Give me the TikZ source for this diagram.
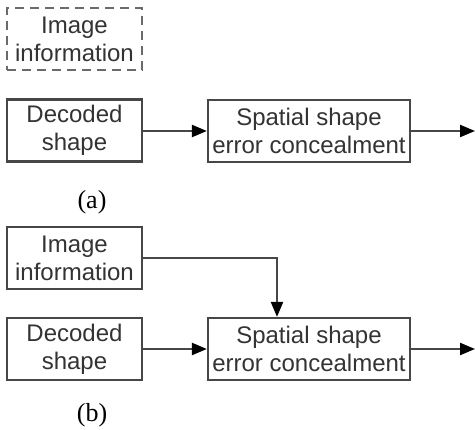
\documentclass[tikz,border=0pt]{standalone}
\usepackage{fontspec}
\setmainfont{Liberation Sans}
\newfontfamily\capfont{Liberation Serif}
\usetikzlibrary{arrows.meta}
\definecolor{boxline}{HTML}{474747}
\definecolor{dashline}{HTML}{6A6A6A}
\definecolor{txt}{HTML}{333333}
\begin{document}
\begin{tikzpicture}[x=1pt,y=-1pt,
  blk/.style={draw=boxline,line width=2.2pt,rectangle,inner sep=0pt,
    minimum height=62pt,align=center,text=txt,
    font=\fontsize{24}{28}\selectfont},
  small/.style={blk,minimum width=135pt},
  wide/.style={blk,minimum width=202pt},
  ghost/.style={small,draw=dashline,line width=2.6pt,dash pattern=on 9pt off 6pt},
  link/.style={draw=boxline,line width=2.2pt,
    -{Triangle[length=15pt,width=12pt,color=black]}},
  caption/.style={font=\capfont\fontsize{26}{30}\selectfont,text=black}]
\useasboundingbox (0,0) rectangle (475,430);

% (a) shape concealment from the decoded shape alone
\node[ghost] (infoA) at (74.5,39) {Image\\information};
\node[small] (decA) at (74.5,130.5) {Decoded\\shape};
\node[wide] (spA) at (309,131) {Spatial shape\\error concealment};
\coordinate (outA) at (475,131);
\draw[link] (decA.east |- spA.west) -- (spA.west);
\draw[link] (spA.east) -- (outA);
\node[caption] (capA) at (92,202) {(a)};

% (b) concealment guided by image information
\node[small] (infoB) at (74.5,258) {Image\\information};
\node[small] (decB) at (74.5,349) {Decoded\\shape};
\node[wide] (spB) at (309,349) {Spatial shape\\error concealment};
\coordinate (outB) at (475,349);
\coordinate (bend) at (277,258);
\draw[link] (infoB.east) -- (bend) -- (bend |- spB.north);
\draw[link] (decB.east) -- (spB.west);
\draw[link] (spB.east) -- (outB);
\node[caption] (capB) at (92,415) {(b)};
\end{tikzpicture}
\end{document}
